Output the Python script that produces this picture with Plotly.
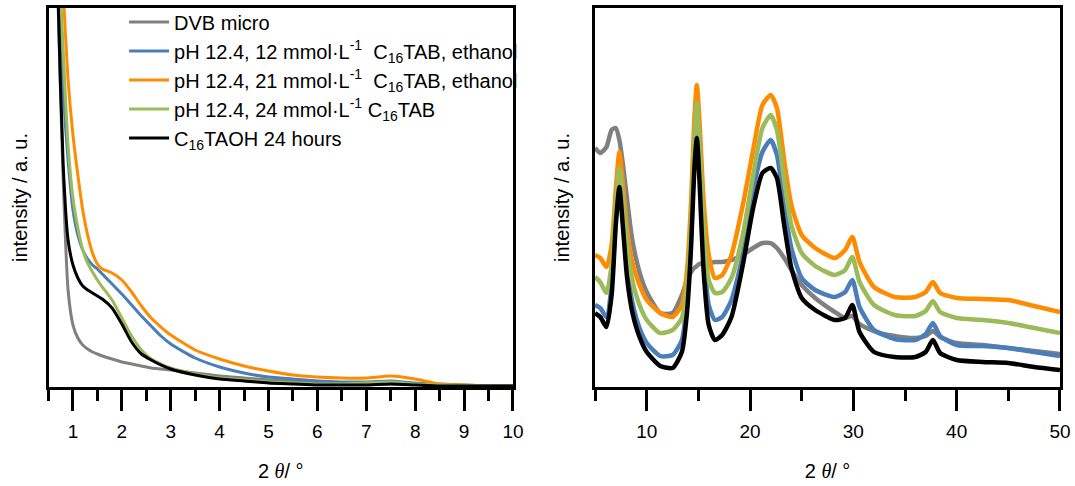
import plotly.graph_objects as go

# ---- low-angle scans (left panel) ----
x_low = [0.55, 0.6, 0.7, 0.8, 0.9, 1.0, 1.1, 1.2, 1.3, 1.4, 1.5, 1.6, 1.8, 2.0, 2.2, 2.4,
         2.6, 2.8, 3.0, 3.5, 4, 4.5, 5, 5.5, 6, 6.5, 7, 7.5, 8, 8.5, 9, 9.5, 10]
dvb_low = [900, 700, 377, 207, 97, 62, 49, 42, 38, 35, 33, 31, 28, 25, 23, 21,
           19, 18, 17, 14, 11, 9, 7, 6, 5, 4, 3, 3, 3, 2, 1, 1, 1]
ph12_low = [1000, 800, 417, 297, 227, 177, 152, 137, 128, 122, 118, 113, 103, 93, 82, 71,
            61, 51, 43, 29, 20, 14, 10, 8, 6, 5, 5, 6, 4, 3, 2, 1, 1]
ph21_low = [1300, 1000, 537, 397, 307, 252, 212, 177, 152, 134, 123, 118, 114, 107, 95, 81,
            69, 60, 52, 37, 28, 21, 16, 12, 10, 9, 9, 11, 8, 3, 2, 1, 1]
ph24_low = [1100, 850, 447, 337, 242, 189, 159, 137, 124, 115, 107, 100, 87, 69, 51, 37,
            28, 23, 19, 13, 9, 7, 5, 4, 3, 3, 4, 5, 3, 2, 1, 1, 1]
taoh_low = [900, 700, 382, 222, 147, 122, 109, 101, 97, 94, 91, 88, 79, 63, 45, 33,
            27, 22, 18, 12, 8, 6, 4, 3, 2, 2, 2, 3, 2, 1, 1, 1, 1]

# ---- wide-angle scans (right panel) ----
x_wide = [5, 5.5, 6.1, 6.6, 7.0, 7.35, 7.7, 8.1, 8.6, 9.3, 10, 11.3, 12.5, 13.4, 13.9, 14.3,
          14.6, 14.85, 15.1, 15.5, 16.0, 16.6, 17.3, 18.2, 19.3, 20.3, 21.2, 22.0, 22.6, 23.3,
          24.0, 25, 26.3, 28.2, 29.2, 29.9, 30.6, 32, 34, 36, 37.0, 37.7, 38.4, 40, 42.5, 45,
          47.5, 50]
dvb_wide = [239, 234, 240, 257, 259, 247, 222, 187, 147, 115, 95, 74, 74, 92, 107, 115,
            119, 121, 123, 124, 124, 125, 125, 127, 132, 139, 144, 144, 139, 129,
            117, 102, 89, 75, 69, 71, 63, 56, 51, 49, 51, 56, 50, 44, 42, 39, 36, 33]
ph12_wide = [82, 79, 70, 102, 167, 202, 167, 119, 85, 59, 44, 31, 32, 47, 87, 152,
             232, 269, 227, 137, 82, 67, 70, 87, 132, 197, 235, 247, 232, 182,
             139, 109, 97, 90, 95, 107, 80, 57, 48, 47, 53, 64, 51, 42, 41, 39, 35, 31]
ph21_wide = [132, 129, 120, 142, 197, 235, 202, 157, 125, 102, 87, 74, 70, 82, 117, 187,
             267, 302, 267, 187, 132, 109, 112, 132, 182, 237, 282, 292, 279, 227,
             182, 152, 139, 129, 137, 150, 125, 100, 90, 90, 95, 105, 94, 89, 88, 87, 81, 75]
ph24_wide = [110, 105, 94, 122, 182, 219, 187, 142, 107, 82, 67, 54, 57, 69, 102, 167,
             247, 284, 247, 162, 107, 94, 95, 109, 152, 212, 259, 272, 257, 207,
             162, 134, 121, 112, 117, 130, 105, 82, 72, 71, 76, 86, 75, 69, 67, 64, 59, 54]
taoh_wide = [74, 70, 60, 92, 162, 200, 159, 109, 75, 50, 35, 21, 19, 35, 75, 142,
             217, 249, 207, 117, 62, 47, 52, 70, 122, 179, 214, 219, 209, 162,
             119, 89, 77, 67, 69, 82, 55, 35, 30, 30, 35, 47, 34, 27, 25, 24, 20, 17]

names = [
    "DVB micro",
    "pH 12.4, 12 mmol·L<sup>-1</sup>\u00a0\u00a0C<sub>16</sub>TAB, ethanol",
    "pH 12.4, 21 mmol·L<sup>-1</sup>\u00a0\u00a0C<sub>16</sub>TAB, ethanol",
    "pH 12.4, 24 mmol·L<sup>-1</sup> C<sub>16</sub>TAB",
    "C<sub>16</sub>TAOH 24 hours",
]
colors = ["#808080", "#4a7ebb", "#ff8c00", "#9bbb59", "#000000"]
low_sets = [dvb_low, ph12_low, ph21_low, ph24_low, taoh_low]
wide_sets = [dvb_wide, ph12_wide, ph21_wide, ph24_wide, taoh_wide]

FONT = "Liberation Sans, Arial, sans-serif"

fig = go.Figure()
for name, col, ys in zip(names, colors, low_sets):
    fig.add_trace(go.Scatter(x=x_low, y=ys, mode="lines", name=name,
                             line=dict(color=col, width=3, shape="spline", smoothing=0.6),
                             xaxis="x", yaxis="y"))
for name, col, ys in zip(names, colors, wide_sets):
    fig.add_trace(go.Scatter(x=x_wide, y=ys, mode="lines", name=name, showlegend=False,
                             line=dict(color=col, width=4.5, shape="spline", smoothing=0.6),
                             xaxis="x2", yaxis="y2"))

theta_title = "2 <span style=\"font-family:'Liberation Serif', 'Times New Roman', serif\"><i>θ</i></span>/ °"

xcommon = dict(showline=True, linewidth=3, linecolor="black", mirror=True,
               ticks="outside", ticklen=21, tickwidth=3, tickcolor="black",
               ticklabelstandoff=4,
               showgrid=False, zeroline=False,
               tickfont=dict(family=FONT, size=19, color="black"),
               title=dict(text=theta_title, font=dict(family=FONT, size=20, color="black"),
                          standoff=24))
ycommon = dict(showline=True, linewidth=3, linecolor="black", mirror=True,
               ticks="", showticklabels=False, showgrid=False, zeroline=False,
               range=[0, 379])
ytitle_font = dict(family=FONT, size=20, color="black")

fig.update_layout(
    width=1075, height=486,
    margin=dict(l=0, r=0, t=0, b=0),
    paper_bgcolor="white", plot_bgcolor="white",
    xaxis=dict(xcommon, domain=[0.0456, 0.4821], range=[0.5, 10], tick0=1, dtick=1,
               minor=dict(ticks="outside", ticklen=11, tickwidth=3, tickcolor="black",
                          tick0=0.5, dtick=1), anchor="y"),
    yaxis=dict(ycommon, domain=[0.2037, 0.9835], anchor="x",
               title=dict(text="intensity / a. u.", font=ytitle_font, standoff=13)),
    xaxis2=dict(xcommon, domain=[0.5593, 0.9962], range=[5, 50], tick0=10, dtick=10,
                minor=dict(ticks="outside", ticklen=11, tickwidth=3, tickcolor="black",
                           tick0=5, dtick=10), anchor="y2"),
    yaxis2=dict(ycommon, domain=[0.2037, 0.9835], anchor="x2",
                title=dict(text="intensity / a. u.", font=ytitle_font, standoff=18)),
    showlegend=True,
    legend=dict(x=0.1166, y=0.995, xanchor="left", yanchor="top",
                bgcolor="rgba(0,0,0,0)", borderwidth=0,
                font=dict(family=FONT, size=20, color="black"),
                tracegroupgap=0, itemwidth=40),
)

fig.write_html("out.html")
